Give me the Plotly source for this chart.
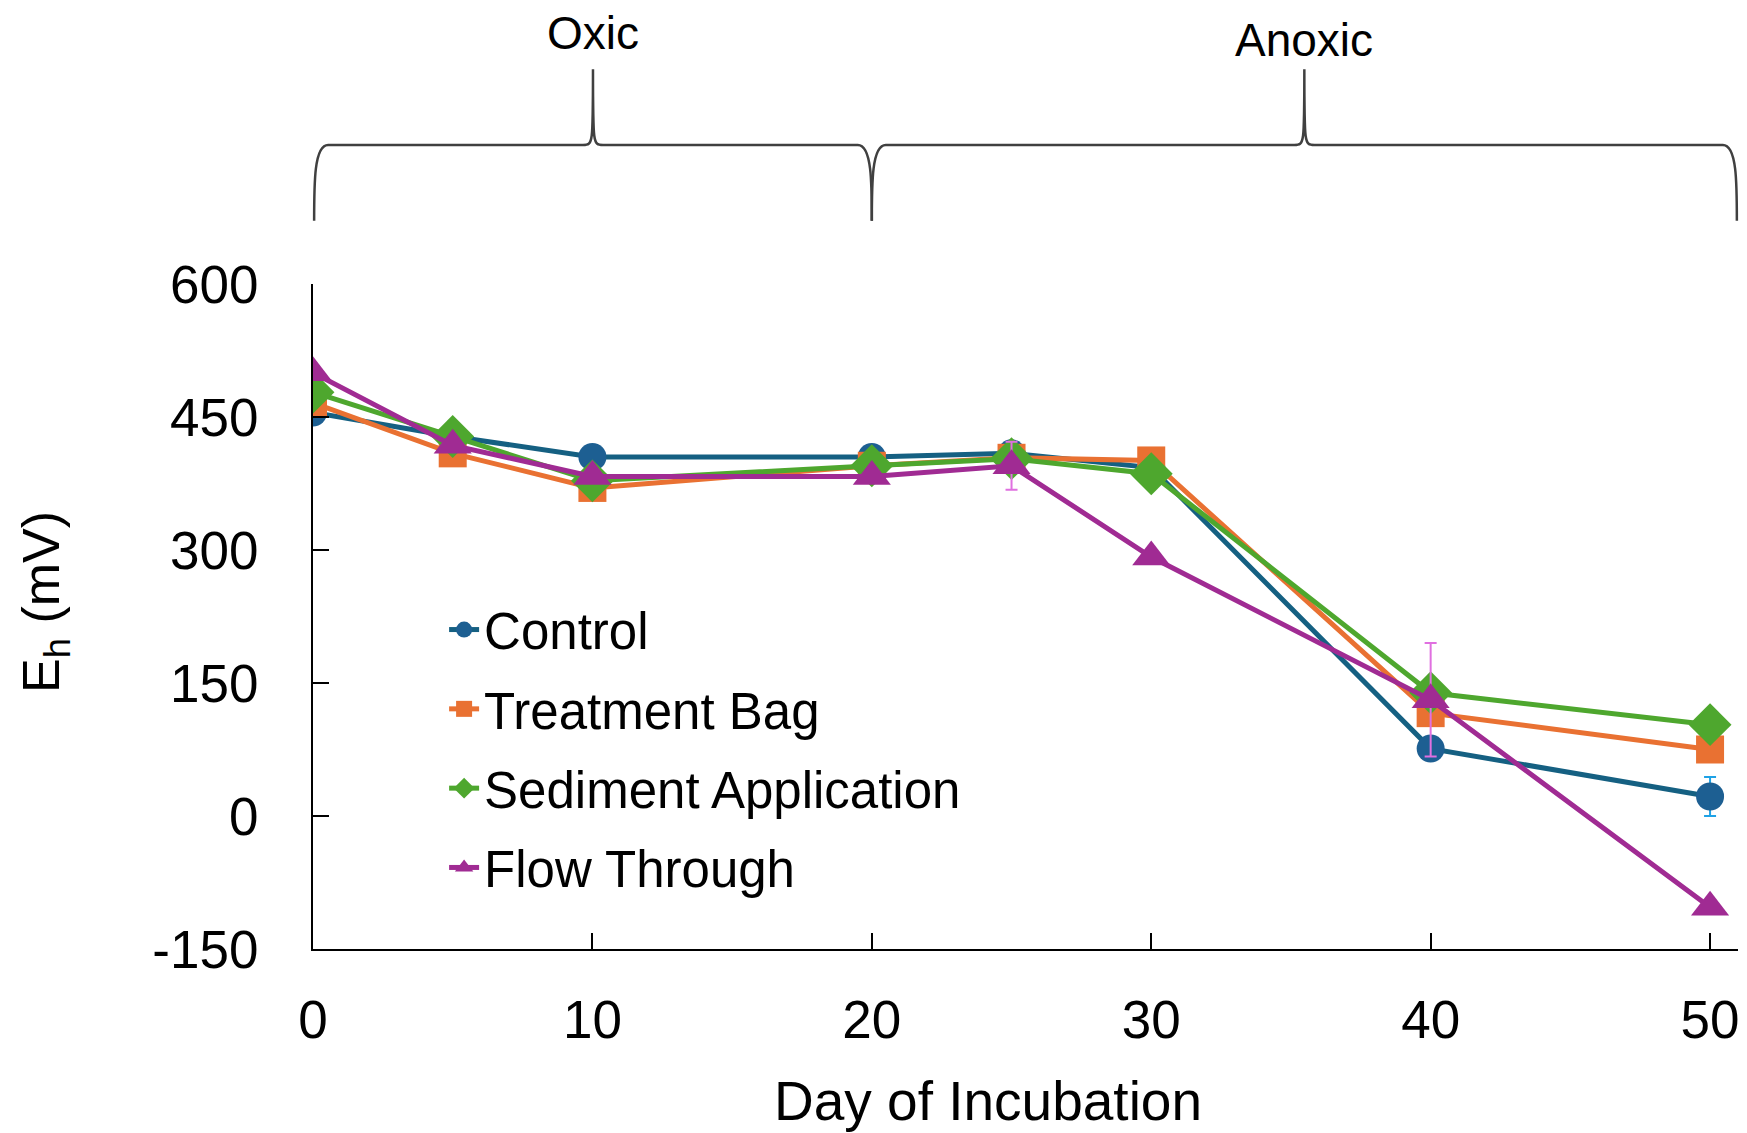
import plotly.graph_objects as go

# days sampled
days = [0, 5, 10, 20, 25, 30, 40, 50]

# Eh readings (mV)
control = [455, 428, 405, 405, 409, 393, 76, 22]
treatment_bag = [466, 409, 370, 395, 404, 401, 116, 75]
sediment_app = [478, 428, 378, 395, 403, 386, 139, 103]
flow_through = [500, 418, 383, 383, 395, 292, 131, -103]

# error bars (only a few are visible outside the markers)
control_err = [0, 0, 0, 0, 0, 0, 0, 22]
flow_err = [0, 0, 0, 0, 27, 0, 64, 0]

series_names = ["Control", "Treatment Bag", "Sediment Application", "Flow Through"]
phase_labels = ["Oxic", "Anoxic"]
phase_bounds = [0, 20, 51]

y_ticks = [-150, 0, 150, 300, 450, 600]
y_ticktext = ["-150", "0", "150", "300", "450", "600"]
x_ticks = [0, 10, 20, 30, 40, 50]

line_cols = ["#156082", "#E97132", "#4EA72E", "#A02B93"]
marker_cols = ["#1d5f92", "#E97132", "#4EA72E", "#A02B93"]
symbols = ["circle", "square", "diamond", "triangle-up"]
msizes = [28, 28, 33, 33]

FONT = "Liberation Sans, Arial, sans-serif"
XMAX = 51

fig = go.Figure()

all_y = [control, treatment_bag, sediment_app, flow_through]
errs = [control_err, None, None, flow_err]
err_cols = ["#1ea2e6", None, None, "#e070e0"]

for i, name in enumerate(series_names):
    err = None
    if errs[i] is not None:
        err = dict(type="data", array=errs[i], visible=True, color=err_cols[i],
                   thickness=2, width=6)
    fig.add_trace(go.Scatter(
        x=days, y=all_y[i], name=name, mode="lines+markers",
        legendgroup=name,
        line=dict(color=line_cols[i], width=5),
        marker=dict(symbol=symbols[i], size=msizes[i], color=marker_cols[i]),
        error_y=err,
    ))

# curly braces above the plot for the two phases (paper coords so they aren't clipped)
yb, ybar, ytip = 1.095, 1.209, 1.323
r = 0.5 / XMAX
c = 0.36 / XMAX
brace_col = "#404040"
ymid = (yb + ybar) / 2
for k in range(2):
    a, b = phase_bounds[k] / XMAX, phase_bounds[k + 1] / XMAX
    a = max(a, 0.0008)
    b = min(b, 0.9992)
    m = (a + b) / 2
    path = (f"M {a},{yb} C {a},{ymid} {a},{ybar} {a + r},{ybar} "
            f"L {m - c},{ybar} C {m},{ybar} {m},{ybar} {m},{ytip} "
            f"C {m},{ybar} {m},{ybar} {m + c},{ybar} "
            f"L {b - r},{ybar} C {b},{ybar} {b},{ymid} {b},{yb}")
    fig.add_shape(type="path", path=path, xref="paper", yref="paper",
                  line=dict(color=brace_col, width=2.5))

    fig.add_annotation(text=phase_labels[k], x=m, y=[1.377, 1.367][k],
                       xref="paper", yref="paper", xanchor="center", yanchor="middle",
                       showarrow=False, font=dict(family=FONT, size=46, color="black"))

# axis titles as annotations for exact placement
fig.add_annotation(text="Day of Incubation", x=0.474, y=-0.229, xref="paper", yref="paper",
                   xanchor="center", yanchor="middle",
                   showarrow=False, font=dict(family=FONT, size=55, color="black"))
fig.add_annotation(text="E<sub>h</sub> (mV)", x=-0.188, y=0.522, xref="paper", yref="paper",
                   xanchor="center", yanchor="middle",
                   textangle=-90, showarrow=False,
                   font=dict(family=FONT, size=52, color="black"))

fig.update_xaxes(range=[0, XMAX], tickvals=x_ticks, automargin=False,
                 ticks="inside", ticklen=16, tickwidth=2, tickcolor="black",
                 showline=True, linecolor="black", linewidth=2,
                 showgrid=False, zeroline=False, ticklabelstandoff=23,
                 tickfont=dict(family=FONT, size=53, color="black"))
fig.update_yaxes(range=[-150, 600], tickvals=y_ticks, ticktext=y_ticktext, automargin=False,
                 ticks="inside", ticklen=16, tickwidth=2, tickcolor="black",
                 showline=True, linecolor="black", linewidth=2,
                 showgrid=False, zeroline=False, ticklabelstandoff=42,
                 tickfont=dict(family=FONT, size=53, color="black"))

# page body has an 8px margin, so the figure is 8px smaller than the window
fig.update_layout(
    width=1739, height=1125,
    margin=dict(l=305, r=9, t=276, b=184, autoexpand=False),
    plot_bgcolor="white", paper_bgcolor="white",
    showlegend=True,
    legend=dict(x=0.092, y=0.54, xanchor="left", yanchor="top",
                bgcolor="rgba(0,0,0,0)", tracegroupgap=10,
                font=dict(family=FONT, size=51, color="black")),
)

fig.write_html("out.html")
